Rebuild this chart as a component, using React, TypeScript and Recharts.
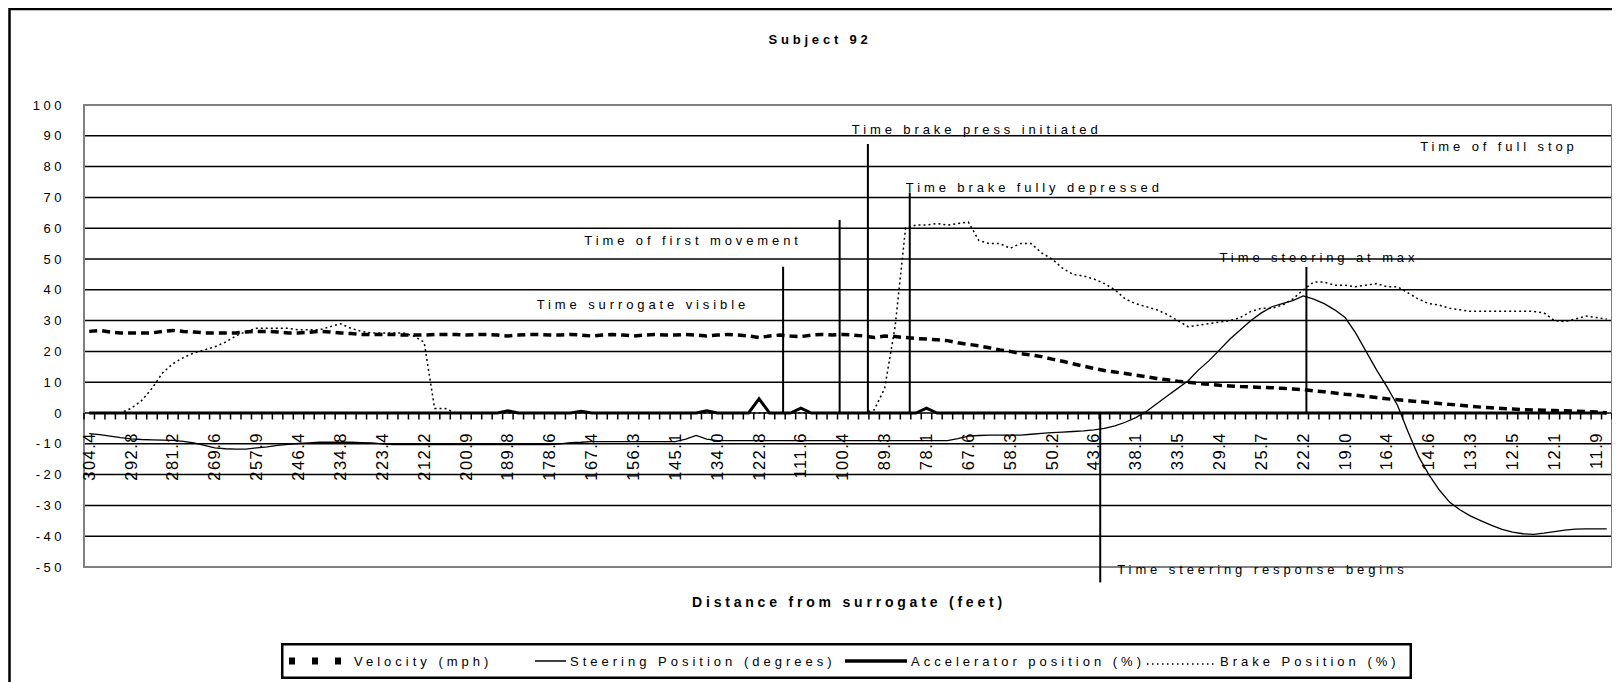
import React from 'react';
import {
  LineChart,
  Line,
  XAxis,
  YAxis,
  CartesianGrid,
  ReferenceLine,
  ReferenceDot,
  ReferenceArea,
  Legend,
} from 'recharts';

const FONT = '"Liberation Sans", Arial, Helvetica, sans-serif';

// ---------- data ----------
const distanceLabels = [
  '304.4', '292.8', '281.2', '269.6', '257.9', '246.4', '234.8', '223.4', '212.2', '200.9',
  '189.8', '178.6', '167.4', '156.3', '145.1', '134.0', '122.8', '111.6', '100.4', '89.3',
  '78.1', '67.6', '58.3', '50.2', '43.6', '38.1', '33.5', '29.4', '25.7', '22.2',
  '19.0', '16.4', '14.6', '13.3', '12.5', '12.1', '11.9',
];

const velocity = [
  26.5, 26.8, 26.3, 26, 26, 26, 26, 26.5, 26.8, 26.5,
  26.3, 26, 26, 26, 26, 26.3, 26.5, 26.5, 26.3, 26,
  26, 26.2, 26.5, 26.3, 26, 25.8, 25.5, 25.5, 25.5, 25.5,
  25.3, 25.3, 25.3, 25.5, 25.5, 25.5, 25.3, 25.5, 25.5, 25.3,
  25, 25.3, 25.5, 25.5, 25.3, 25.3, 25.5, 25.3, 25, 25.3,
  25.5, 25.3, 25, 25.3, 25.5, 25.3, 25.3, 25.5, 25.3, 25,
  25.3, 25.5, 25.3, 25, 24.5, 25, 25.3, 25, 24.8, 25.3,
  25.5, 25.3, 25.5, 25.3, 25, 24.5, 25, 24.8, 24.5, 24.2,
  24, 23.8, 23.5, 22.8, 22.3, 21.8, 21.2, 20.5, 20, 19.3,
  18.8, 18.3, 17.5, 16.8, 16, 15.2, 14.5, 13.8, 13.3, 12.8,
  12.3, 11.8, 11.2, 10.8, 10.3, 10, 9.6, 9.3, 9, 8.8,
  8.6, 8.5, 8.3, 8.2, 8, 7.8, 7.6, 7.2, 6.9, 6.5,
  6.1, 5.8, 5.4, 5, 4.6, 4.3, 4, 3.7, 3.4, 3.1,
  2.8, 2.5, 2.2, 1.9, 1.7, 1.5, 1.3, 1.1, 1, 0.9,
  0.8, 0.7, 0.6, 0.5, 0.3, 0.1,
];

const steering = [
  -6.7, -7, -7.5, -8, -8.4, -8.6, -8.7, -8.8, -8.9, -9.2,
  -9.7, -10.5, -11.3, -11.6, -11.7, -11.7, -11.3, -11, -10.5, -10.2,
  -9.9, -9.7, -9.5, -9.5, -9.5, -9.5, -9.6, -9.7, -10, -10.3,
  -10.3, -10.3, -10.3, -10.3, -10.3, -10.3, -10.3, -10.3, -10.3, -10.3,
  -10.3, -10.3, -10.3, -10.3, -10.3, -10, -9.6, -9.5, -9.3, -9.3,
  -9.3, -9.3, -9.3, -9.3, -9.3, -9.3, -9.3, -8.5, -7.3, -8.5,
  -9, -9, -9, -9, -9, -9, -9, -9, -9, -9,
  -9, -9, -9, -9, -9, -9, -9, -9, -9, -9,
  -9, -9, -9, -8.3, -7.5, -7.3, -7.2, -7.2, -7.2, -7.2,
  -6.9, -6.6, -6.4, -6.2, -6, -5.8, -5.5, -5, -4.2, -3,
  -1.5, 0.5, 3, 5.5, 8, 10.5, 14, 17, 20.5, 24,
  27, 30, 32.5, 34.5, 35.5, 36.5, 38, 37, 35.5, 33.5,
  31, 26, 20, 14, 8.5, 2.5, -6, -14, -20, -25,
  -29, -31.5, -33.5, -35, -36.5, -37.8, -38.7, -39.2, -39.4, -39,
  -38.5, -38, -37.7, -37.6, -37.6, -37.6,
];

const accelerator = [
  0, 0, 0, 0, 0, 0, 0, 0, 0, 0,
  0, 0, 0, 0, 0, 0, 0, 0, 0, 0,
  0, 0, 0, 0, 0, 0, 0, 0, 0, 0,
  0, 0, 0, 0, 0, 0, 0, 0, 0, 0,
  0.7, 0, 0, 0, 0, 0, 0, 0.6, 0, 0,
  0, 0, 0, 0, 0, 0, 0, 0, 0, 0.7,
  0, 0, 0, 0, 4.6, 0, 0, 0, 1.6, 0,
  0, 0, 0, 0, 0, 0, 0, 0, 0, 0,
  1.6, 0, 0, 0, 0, 0, 0, 0, 0, 0,
  0, 0, 0, 0, 0, 0, 0, 0, 0, 0,
  0, 0, 0, 0, 0, 0, 0, 0, 0, 0,
  0, 0, 0, 0, 0, 0, 0, 0, 0, 0,
  0, 0, 0, 0, 0, 0, 0, 0, 0, 0,
  0, 0, 0, 0, 0, 0, 0, 0, 0, 0,
  0, 0, 0, 0, 0, 0,
];

const brake = [
  0, 0, 0, 0, 1.5, 4, 8, 13, 16, 18,
  19.5, 20.5, 21.5, 23, 25, 26.5, 27.5, 27.5, 27.5, 27.5,
  27, 27, 27, 28, 29, 27.5, 26.5, 26, 26, 26,
  26, 25, 23, 1.5, 1.5, 0, 0, 0, 0, 0,
  0, 0, 0, 0, 0, 0, 0, 0, 0, 0,
  0, 0, 0, 0, 0, 0, 0, 0, 0, 0,
  0, 0, 0, 0, 0, 0, 0, 0, 0, 0,
  0, 0, 0, 0, 0, 1, 8, 28, 60, 61,
  61, 61.5, 61, 61.5, 62, 56, 55, 55, 53.5, 55,
  55, 52, 50, 47, 45, 44.5, 43.5, 42, 40, 37,
  35.5, 34.5, 33.5, 32, 30, 28, 28.5, 29, 29.5, 30,
  31, 33, 34, 34, 35, 37, 40, 42.5, 42.5, 41.5,
  41.5, 41, 41.5, 42, 41, 41, 39, 37, 35.5, 35,
  34, 33.5, 33, 33, 33, 33, 33, 33, 33, 32.5,
  30, 29.7, 30.5, 31.5, 31, 30.5,
];

const yTicks = [-50, -40, -30, -20, -10, 0, 10, 20, 30, 40, 50, 60, 70, 80, 90, 100];

// event marker lines: category position, from value, to value
const eventLines = [
  { idx: 66.3, from: 0, to: 47.5 },
  { idx: 71.7, from: 0, to: 62.7 },
  { idx: 74.4, from: 0, to: 87.3 },
  { idx: 78.4, from: 0, to: 71.6 },
  { idx: 96.6, from: 0, to: -55 },
  { idx: 116.3, from: 0, to: 47.4 },
];

const eventTexts = [
  { text: 'Time surrogate visible', idx: 52.9, y: 35.3 },
  { text: 'Time of first movement', idx: 57.7, y: 56.1 },
  { text: 'Time brake press initiated', idx: 84.8, y: 92.1 },
  { text: 'Time brake fully depressed', idx: 90.3, y: 73.3 },
  { text: 'Time steering at max', idx: 117.5, y: 50.4 },
  { text: 'Time steering response begins', idx: 112.1, y: -50.9 },
  { text: 'Time of full stop', idx: 134.7, y: 86.6 },
];

const rows = velocity.map((v, i) => ({
  idx: i,
  velocity: v,
  steering: steering[i],
  accelerator: accelerator[i],
  brake: brake[i],
}));

// ---------- layout ----------
const CHART_W = 1612;
const CHART_H = 674;
const PLOT_LEFT = 76;
const PLOT_RIGHT = 1604;
const PLOT_TOP = 97;
const PLOT_BOTTOM = 559;
const N = rows.length;
const CAT_W = (PLOT_RIGHT - PLOT_LEFT) / N;
const Y_MIN = -50;
const Y_MAX = 100;
const Y_ZERO = PLOT_TOP + ((PLOT_BOTTOM - PLOT_TOP) * (Y_MAX - 0)) / (Y_MAX - Y_MIN);
const xTickValues = rows.map((r) => r.idx);

const XTick = (props: any) => {
  const { x, payload } = props;
  const i = payload.value as number;
  const left = x - CAT_W / 2;
  const label = i % 4 === 0 ? distanceLabels[i / 4] : null;
  return (
    <g>
      <line x1={left} x2={left} y1={Y_ZERO} y2={Y_ZERO + 6.5} stroke="#000" strokeWidth={1.5} />
      {i === N - 1 && (
        <line x1={x + CAT_W / 2} x2={x + CAT_W / 2} y1={Y_ZERO} y2={Y_ZERO + 6.5} stroke="#000" strokeWidth={1.5} />
      )}
      {label && (
        <text
          transform={`translate(${x + 5.5},${Y_ZERO + 19}) rotate(-90)`}
          textAnchor="end"
          fontSize={16.5}
          letterSpacing={1.5}
          fontFamily={FONT}
          fill="#000"
        >
          {label}
        </text>
      )}
    </g>
  );
};

const YTick = (props: any) => {
  const { y, payload } = props;
  return (
    <text
      x={57}
      y={y}
      textAnchor="end"
      dominantBaseline="central"
      fontSize={13}
      letterSpacing={3.5}
      fontFamily={FONT}
      fill="#000"
    >
      {payload.value}
    </text>
  );
};

const LegendBox = () => {
  const ty = 18;
  const txt = (x: number, s: string) => (
    <text x={x} y={ty} dominantBaseline="central" fontSize={13} letterSpacing={4} fontFamily={FONT} fill="#000">
      {s}
    </text>
  );
  return (
    <svg width={1131} height={36} style={{ display: 'block', overflow: 'visible' }}>
      <rect x={1.25} y={1.25} width={1128.5} height={33.5} fill="#fff" stroke="#000" strokeWidth={2.5} />
      <rect x={8} y={ty - 3.5} width={6} height={7} fill="#000" />
      <rect x={31} y={ty - 3.5} width={6} height={7} fill="#000" />
      <rect x={54} y={ty - 3.5} width={6} height={7} fill="#000" />
      {txt(73, 'Velocity (mph)')}
      <line x1={254} x2={285} y1={ty} y2={ty} stroke="#000" strokeWidth={1.5} />
      {txt(289, 'Steering Position (degrees)')}
      <line x1={564} x2={626} y1={ty} y2={ty} stroke="#000" strokeWidth={3.5} />
      {txt(630, 'Accelerator position (%)')}
      <line x1={866} x2={936} y1={ty + 3} y2={ty + 3} stroke="#000" strokeWidth={1.5} strokeDasharray="1.5 3.5" />
      {txt(939, 'Brake Position (%)')}
    </svg>
  );
};

export default function App() {
  return (
    <div style={{ position: 'relative', width: CHART_W, height: CHART_H }}>
      <style>{'body{overflow:hidden}'}</style>
      <LineChart
        width={CHART_W}
        height={CHART_H}
        data={rows}
        margin={{ top: PLOT_TOP, right: CHART_W - PLOT_RIGHT, left: 0, bottom: CHART_H - PLOT_BOTTOM - 30 }}
      >
        <CartesianGrid vertical={false} stroke="#000" strokeWidth={1.5} />
        <XAxis
          dataKey="idx"
          type="number"
          domain={[-0.5, N - 0.5]}
          ticks={xTickValues}
          interval={0}
          allowDataOverflow
          axisLine={false}
          tickLine={false}
          height={30}
          tick={<XTick />}
        />
        <YAxis
          type="number"
          domain={[Y_MIN, Y_MAX]}
          ticks={yTicks}
          interval={0}
          allowDataOverflow
          axisLine={false}
          tickLine={false}
          width={PLOT_LEFT}
          tick={<YTick />}
        />
        <ReferenceArea
          x1={-0.5}
          x2={N - 0.5}
          y1={Y_MIN}
          y2={Y_MAX}
          fill="none"
          fillOpacity={0}
          stroke="#808080"
          strokeWidth={2}
          ifOverflow="visible"
        />
        {eventLines.map((e, k) => (
          <ReferenceLine
            key={'l' + k}
            segment={[
              { x: e.idx, y: e.from },
              { x: e.idx, y: e.to },
            ]}
            stroke="#000"
            strokeWidth={2}
            ifOverflow="visible"
          />
        ))}
        {eventTexts.map((e, k) => (
          <ReferenceDot
            key={'t' + k}
            x={e.idx}
            y={e.y}
            r={1}
            ifOverflow="visible"
            shape={(p: any) => (
              <text
                x={p.cx}
                y={p.cy}
                textAnchor="middle"
                dominantBaseline="central"
                fontSize={13}
                letterSpacing={3.9}
                fontFamily={FONT}
                fill="#000"
              >
                {e.text}
              </text>
            )}
          />
        ))}
        <Line
          type="linear"
          dataKey="velocity"
          name="Velocity (mph)"
          stroke="#000"
          strokeWidth={3.5}
          strokeDasharray="8 5"
          dot={false}
          isAnimationActive={false}
        />
        <Line
          type="linear"
          dataKey="steering"
          name="Steering Position (degrees)"
          stroke="#000"
          strokeWidth={1.3}
          dot={false}
          isAnimationActive={false}
        />
        <Line
          type="linear"
          dataKey="accelerator"
          name="Accelerator position (%)"
          stroke="#000"
          strokeWidth={3}
          dot={false}
          isAnimationActive={false}
        />
        <Line
          type="linear"
          dataKey="brake"
          name="Brake Position (%)"
          stroke="#000"
          strokeWidth={1.5}
          strokeDasharray="2 3"
          dot={false}
          isAnimationActive={false}
        />
        <Legend
          layout="horizontal"
          verticalAlign="middle"
          align="center"
          content={<LegendBox />}
          wrapperStyle={{ position: 'absolute', left: 273, top: 634.5, width: 1131, height: 36, margin: 0, padding: 0 }}
        />
      </LineChart>
      <svg
        width={CHART_W}
        height={CHART_H}
        style={{ position: 'absolute', left: 0, top: 0, pointerEvents: 'none', overflow: 'visible' }}
      >
        <rect x={1.5} y={1} width={1607} height={720} fill="none" stroke="#000" strokeWidth={2.5} />
        <text
          x={812}
          y={31}
          textAnchor="middle"
          dominantBaseline="central"
          fontSize={13}
          fontWeight="bold"
          letterSpacing={3.8}
          fontFamily={FONT}
          fill="#000"
        >
          Subject 92
        </text>
        <text
          x={841}
          y={593.5}
          textAnchor="middle"
          dominantBaseline="central"
          fontSize={14}
          fontWeight="bold"
          letterSpacing={3.8}
          fontFamily={FONT}
          fill="#000"
        >
          Distance from surrogate (feet)
        </text>
      </svg>
    </div>
  );
}
